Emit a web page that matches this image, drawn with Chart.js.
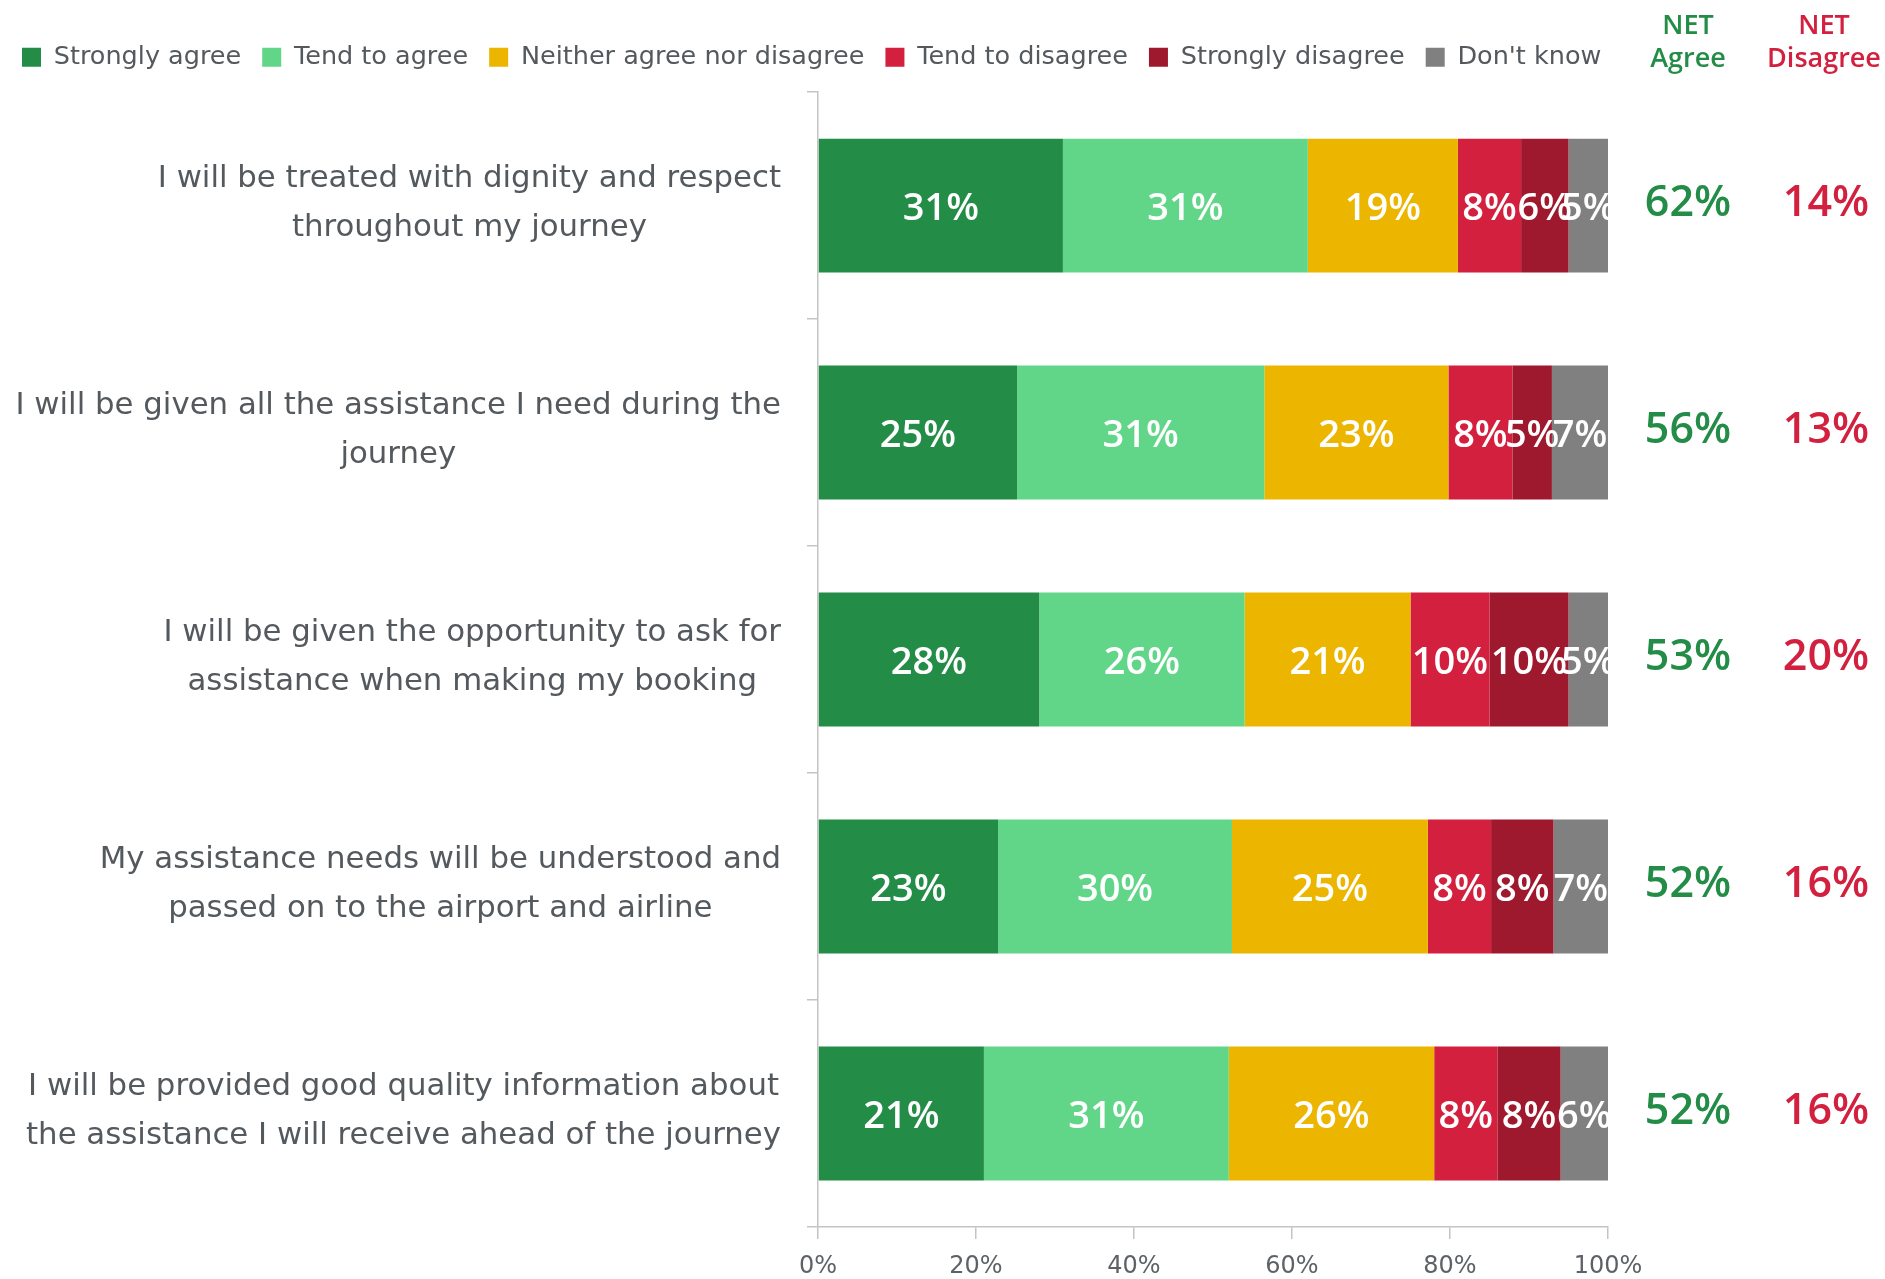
<!DOCTYPE html>
<html>
<head>
<meta charset="utf-8">
<script src="https://cdn.jsdelivr.net/npm/chart.js@4.4.1/dist/chart.umd.min.js"></script>
<style>
  html, body { margin: 0; padding: 0; background: #ffffff; }
  #wrap { width: 1885px; height: 1279px; position: relative; }
</style>
</head>
<body>
<div id="wrap"><canvas id="chart"></canvas></div>
<script>
// Survey statements (each entry is the wrapped lines of one label)
const categories = [
  ['I will be treated with dignity and respect', 'throughout my journey'],
  ['I will be given all the assistance I need during the', 'journey'],
  ['I will be given the opportunity to ask for', 'assistance when making my booking'],
  ['My assistance needs will be understood and', 'passed on to the airport and airline'],
  ['I will be provided good quality information about', 'the assistance I will receive ahead of the journey']
];

const seriesNames = ['Strongly agree', 'Tend to agree', 'Neither agree nor disagree',
                     'Tend to disagree', 'Strongly disagree', "Don't know"];

// Percentages per statement
const stronglyAgree    = [31, 25.2, 28, 22.8, 21];
const tendToAgree      = [31, 31.3, 26, 29.6, 31];
const neither          = [19, 23.3, 21, 24.8, 26];
const tendToDisagree   = [8, 8.1, 10, 8.0, 8];
const stronglyDisagree = [6, 5.0, 10, 7.9, 8];
const dontKnow         = [5, 7.1, 5, 6.9, 6];

// Summary columns
const netAgree    = [62, 56, 53, 52, 52];
const netDisagree = [14, 13, 20, 16, 16];

const xTickLabels = ['0%', '20%', '40%', '60%', '80%', '100%'];

const seriesColors = ['#238c47', '#62d688', '#ecb500', '#d2203e', '#9e192e', '#808080'];
const seriesValues = [stronglyAgree, tendToAgree, neither, tendToDisagree, stronglyDisagree, dontKnow];

const TEXT_GREY = '#54595e';
const GREEN = '#238c47';
const RED = '#d2203e';

// White percentage labels centred in each bar segment
const segmentLabels = {
  id: 'segmentLabels',
  afterDatasetsDraw(chart) {
    const ctx = chart.ctx;
    ctx.save();
    ctx.font = '600 38px "Open Sans", "Noto Sans", sans-serif';
    ctx.fillStyle = '#ffffff';
    ctx.textAlign = 'center';
    ctx.textBaseline = 'middle';
    chart.data.datasets.forEach((ds, di) => {
      const meta = chart.getDatasetMeta(di);
      meta.data.forEach((el, i) => {
        const v = ds.data[i];
        const p = el.getCenterPoint();
        ctx.fillText(Math.round(v) + '%', p.x, p.y + 4);
      });
    });
    ctx.restore();
  }
};

// Statement labels: block right-aligned to the axis, lines centred on each other
const statementLabels = {
  id: 'statementLabels',
  afterDraw(chart) {
    const ctx = chart.ctx;
    const yScale = chart.scales.y;
    const right = chart.chartArea.left - 37;
    const lineH = 49;
    ctx.save();
    ctx.font = '30.8px "DejaVu Sans", sans-serif';
    ctx.fillStyle = TEXT_GREY;
    ctx.textAlign = 'center';
    ctx.textBaseline = 'middle';
    categories.forEach((lines, i) => {
      const widest = Math.max(...lines.map(l => ctx.measureText(l).width));
      const cx = right - widest / 2;
      const cy = yScale.getPixelForValue(i) - 2;
      const y0 = cy - (lines.length - 1) * lineH / 2;
      lines.forEach((l, k) => ctx.fillText(l, cx, y0 + k * lineH));
    });
    ctx.restore();
  }
};

// NET Agree / NET Disagree columns to the right of the bars
const netColumns = {
  id: 'netColumns',
  afterDraw(chart) {
    const ctx = chart.ctx;
    const yScale = chart.scales.y;
    const xA = chart.chartArea.right + 80;
    const xD = chart.chartArea.right + 216;
    ctx.save();
    ctx.textAlign = 'center';
    ctx.textBaseline = 'middle';
    ctx.font = '600 27px "Open Sans", "Noto Sans", sans-serif';
    ctx.fillStyle = GREEN;
    ctx.fillText('NET', xA, 26);
    ctx.fillText('Agree', xA, 59);
    ctx.fillStyle = RED;
    ctx.fillText('NET', xD, 26);
    ctx.fillText('Disagree', xD, 59);
    ctx.font = '600 43px "Open Sans", "Noto Sans", sans-serif';
    categories.forEach((_, i) => {
      const y = yScale.getPixelForValue(i) - 2;
      ctx.fillStyle = GREEN;
      ctx.fillText(netAgree[i] + '%', xA, y);
      ctx.fillStyle = RED;
      ctx.fillText(netDisagree[i] + '%', xD + 2, y);
    });
    ctx.restore();
  }
};

const datasets = seriesNames.map((name, k) => ({
  label: name,
  data: seriesValues[k],
  backgroundColor: seriesColors[k],
  borderWidth: 0,
  barPercentage: 0.59,
  categoryPercentage: 1.0
}));

new Chart(document.getElementById('chart'), {
  type: 'bar',
  data: { labels: categories.map(l => l.join(' ')), datasets },
  options: {
    indexAxis: 'y',
    responsive: true,
    maintainAspectRatio: false,
    animation: false,
    devicePixelRatio: 1,
    layout: { padding: { left: 1, right: 0, top: 23.6, bottom: 0 } },
    plugins: {
      legend: {
        position: 'top',
        align: 'start',
        labels: {
          boxWidth: 19,
          boxHeight: 19,
          padding: 21,
          color: TEXT_GREY,
          font: { family: '"DejaVu Sans", sans-serif', size: 25.5 }
        }
      },
      tooltip: { enabled: false }
    },
    scales: {
      x: {
        type: 'linear',
        position: 'bottom',
        stacked: true,
        min: 0,
        max: 100,
        ticks: {
          stepSize: 20,
          padding: 13,
          color: '#5e6266',
          font: { family: '"DejaVu Sans", sans-serif', size: 24 },
          callback: (v, i) => xTickLabels[i]
        },
        grid: { drawOnChartArea: false, drawTicks: true, tickLength: 12, color: '#c4c4c4', lineWidth: 1.5 },
        border: { display: true, color: '#c4c4c4', width: 1.5 },
        afterFit: s => { s.height = 52; }
      },
      xTop: {
        type: 'linear',
        position: 'top',
        display: true,
        ticks: { display: false },
        grid: { display: false, drawTicks: false },
        border: { display: false },
        afterFit: s => { s.height = 12; }
      },
      y: {
        type: 'category',
        position: 'left',
        stacked: true,
        offset: true,
        ticks: { display: false },
        grid: { offset: true, drawOnChartArea: false, drawTicks: true, tickLength: 11, color: '#c4c4c4', lineWidth: 1.5 },
        border: { display: true, color: '#c4c4c4', width: 1.5 },
        afterFit: s => { s.width = 817; }
      },
      yRight: {
        type: 'linear',
        position: 'right',
        display: true,
        ticks: { display: false },
        grid: { display: false, drawTicks: false },
        border: { display: false },
        afterFit: s => { s.width = 277; }
      }
    }
  },
  plugins: [segmentLabels, statementLabels, netColumns]
});
</script>
</body>
</html>
